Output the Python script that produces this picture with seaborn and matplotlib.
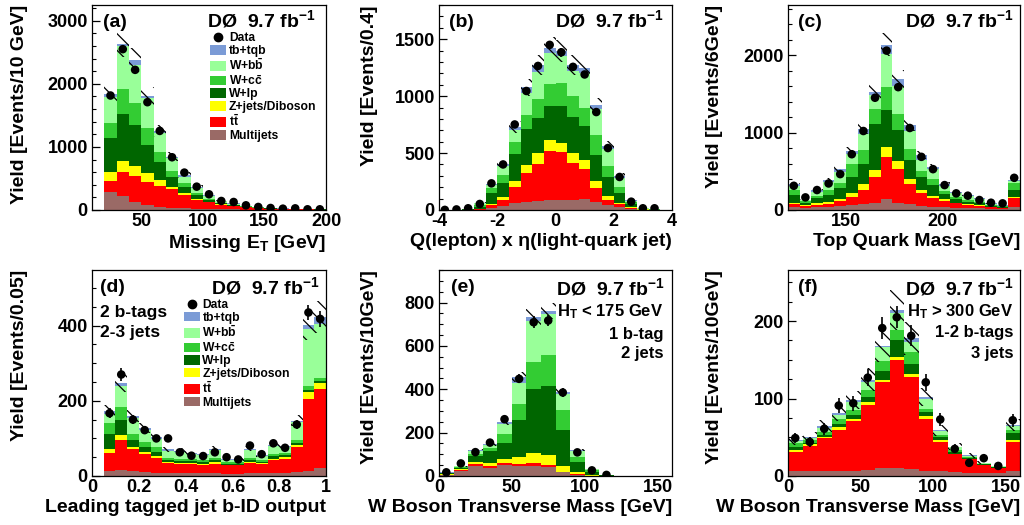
import numpy as np
import pandas as pd
import matplotlib
matplotlib.use("Agg")
import matplotlib.pyplot as plt
from matplotlib.patches import Patch
from matplotlib.lines import Line2D
from matplotlib.ticker import MultipleLocator, FixedLocator, FuncFormatter
import seaborn as sns

sns.set_theme(style="ticks", rc={"axes.edgecolor": "black", "xtick.color": "black",
                                 "ytick.color": "black", "text.color": "black",
                                 "axes.labelcolor": "black", "axes.linewidth": 0.9})
plt.rcParams['font.family'] = ['Liberation Sans', 'DejaVu Sans']
plt.rcParams['font.weight'] = 'bold'
plt.rcParams['axes.labelweight'] = 'bold'
plt.rcParams['mathtext.fontset'] = 'custom'
plt.rcParams['mathtext.rm'] = 'Liberation Sans:bold'
plt.rcParams['mathtext.it'] = 'Liberation Sans:bold:italic'
plt.rcParams['mathtext.bf'] = 'Liberation Sans:bold'
plt.rcParams['mathtext.sf'] = 'Liberation Sans:bold'
plt.rcParams['axes.unicode_minus'] = False
plt.rcParams['hatch.linewidth'] = 0.9

# ---------------- components (top of stack -> bottom) ----------------
COMP_KEYS = ["tb", "wbb", "wcc", "wlp", "zjets", "ttbar", "multijet"]
COMP_LABELS = ["tb+tqb", r"W+b$\bar{\mathrm{b}}$", r"W+c$\bar{\mathrm{c}}$", "W+lp",
               "Z+jets/Diboson", r"t$\bar{\mathrm{t}}$", "Multijets"]
COMP_COLORS = ["#7b9bd6", "#99ff99", "#33cc33", "#006600", "#ffff00", "#ff0000", "#9a6a66"]

# ---------------- (a) Missing ET ----------------
a_edges = list(range(20, 201, 10))
a_mj = [291, 222, 132, 79, 53, 37, 26, 21, 16, 10, 8, 5, 4, 3, 2, 2, 1, 1]
a_tt = [169, 386, 413, 371, 333, 291, 212, 138, 106, 75, 52, 37, 26, 19, 14, 10, 8, 6]
a_z = [148, 175, 159, 143, 90, 42, 37, 21, 10, 5, 4, 3, 2, 1, 1, 0, 0, 0]
a_wlp = [540, 741, 645, 439, 281, 149, 85, 58, 27, 15, 11, 7, 5, 3, 2, 2, 1, 1]
a_wcc = [238, 391, 344, 264, 169, 105, 63, 37, 21, 10, 7, 4, 3, 2, 1, 1, 1, 0]
a_wbb = [413, 678, 609, 476, 291, 196, 106, 69, 42, 25, 16, 10, 7, 5, 3, 2, 1, 1]
a_tb = [37, 37, 79, 38, 37, 27, 27, 16, 11, 8, 6, 4, 3, 2, 2, 1, 1, 1]
a_data = [1815, 2550, 2222, 1709, 1254, 836, 593, 370, 249, 143, 127, 74, 48, 32, 21, 26, 11, 11]
a_unc = 0.08

# ---------------- (b) Q x eta ----------------
b_edges = [-4.0, -3.6, -3.2, -2.8, -2.4, -2.0, -1.6, -1.2, -0.8, -0.4, 0.0,
           0.4, 0.8, 1.2, 1.6, 2.0, 2.4, 2.8, 3.2, 3.6, 4.0]
b_mj = [0, 0, 0, 2, 20, 32, 58, 73, 80, 88, 88, 84, 94, 73, 48, 29, 10, 2, 1, 0]
b_tt = [0, 0, 1, 6, 20, 52, 144, 253, 328, 427, 417, 331, 266, 117, 44, 21, 8, 2, 1, 1]
b_z = [0, 1, 1, 4, 15, 30, 53, 69, 89, 96, 86, 88, 80, 62, 28, 15, 7, 1, 0, 0]
b_wlp = [1, 1, 4, 18, 95, 126, 235, 317, 310, 305, 321, 312, 295, 228, 172, 88, 30, 5, 2, 0]
b_wcc = [0, 0, 2, 15, 40, 70, 110, 124, 170, 190, 199, 185, 165, 178, 98, 45, 15, 3, 1, 1]
b_wbb = [0, 1, 2, 13, 30, 80, 100, 192, 237, 275, 241, 220, 300, 227, 145, 82, 12, 3, 1, 0]
b_tb = [0, 0, 0, 6, 12, 12, 27, 48, 58, 40, 42, 55, 47, 35, 30, 20, 6, 2, 0, 0]
b_data = [1, 5, 15, 53, 234, 400, 751, 1045, 1265, 1450, 1385, 1257, 1190, 860, 544, 290, 73, 15, 15, np.nan]
b_unc = 0.07

# ---------------- (c) Top quark mass ----------------
c_edges = list(range(120, 241, 6))
c_mj = [43, 30, 34, 43, 52, 60, 73, 94, 137, 94, 73, 52, 43, 34, 30, 26, 21, 17, 17, 40]
c_tt = [30, 22, 30, 39, 64, 112, 185, 327, 550, 434, 257, 163, 116, 86, 56, 43, 35, 17, 9, 110]
c_z = [21, 12, 22, 25, 26, 43, 72, 94, 128, 107, 65, 43, 26, 17, 8, 8, 8, 5, 4, 13]
c_wlp = [99, 30, 64, 86, 137, 214, 271, 601, 481, 395, 249, 171, 137, 69, 48, 30, 22, 13, 9, 95]
c_wcc = [65, 18, 35, 65, 64, 172, 172, 193, 292, 206, 150, 77, 73, 43, 30, 22, 21, 8, 8, 85]
c_wbb = [55, 12, 51, 107, 151, 129, 214, 172, 429, 373, 227, 138, 130, 61, 48, 49, 33, 18, 11, 32]
c_tb = [17, 9, 22, 21, 34, 30, 65, 43, 120, 86, 73, 64, 33, 25, 16, 15, 10, 8, 6, 11]
c_data = [313, 163, 258, 343, 464, 721, 1021, 1451, 2060, 1588, 1060, 687, 528, 322, 215, 185, 129, 94, 86, 416]
c_unc = 0.07

# ---------------- (d) b-ID output ----------------
d_edges = [0.05, 0.10, 0.15, 0.20, 0.25, 0.30, 0.35, 0.40, 0.45, 0.50,
           0.55, 0.60, 0.65, 0.70, 0.75, 0.80, 0.85, 0.90, 0.95, 1.00]
d_mj = [14, 17, 13, 10, 9, 7, 7, 7, 7, 7, 6, 6, 7, 7, 8, 8, 10, 14, 20]
d_tt = [48, 78, 58, 48, 38, 27, 24, 24, 23, 25, 22, 22, 27, 25, 34, 38, 68, 192, 212]
d_z = [11, 14, 7, 7, 6, 3, 4, 3, 3, 4, 2, 2, 3, 2, 4, 4, 4, 18, 15]
d_wlp = [38, 41, 19, 13, 12, 5, 6, 5, 5, 6, 3, 3, 5, 4, 6, 6, 5, 6, 5]
d_wcc = [29, 34, 16, 13, 13, 7, 5, 5, 5, 6, 3, 3, 6, 4, 6, 5, 9, 10, 10]
d_wbb = [24, 56, 40, 31, 20, 18, 19, 14, 13, 22, 7, 6, 22, 12, 21, 16, 48, 150, 143]
d_tb = [8, 7, 6, 5, 5, 4, 2, 2, 2, 3, 2, 2, 3, 2, 3, 3, 3, 13, 19]
d_data = [167, 270, 150, 122, 100, 100, 63, 54, 53, 63, 50, 44, 81, 58, 87, 75, 137, 435, 418]
d_unc = 0.10

# ---------------- (e) W transverse mass, HT < 175 ----------------
e_edges = list(range(0, 161, 10))
e_mj = [5, 24, 48, 38, 51, 48, 48, 43, 17, 6, 1, 0, 0, 0, 0, 0]
e_tt = [1, 3, 7, 8, 7, 7, 10, 8, 3, 3, 1, 0, 0, 0, 0, 0]
e_z = [2, 3, 11, 16, 19, 34, 47, 46, 28, 8, 2, 1, 0, 0, 0, 0]
e_wlp = [4, 6, 26, 55, 74, 169, 295, 318, 164, 49, 16, 2, 1, 0, 0, 0]
e_wcc = [2, 4, 10, 11, 43, 74, 128, 143, 93, 23, 6, 1, 0, 0, 0, 0]
e_wbb = [2, 5, 15, 14, 46, 96, 189, 190, 72, 28, 4, 1, 0, 0, 0, 0]
e_tb = [1, 1, 3, 6, 8, 30, 15, 14, 9, 3, 2, 1, 0, 0, 0, 0]
e_data = [17, 58, 110, 154, 262, 448, 709, 717, 385, 109, 26, 5, np.nan, np.nan, np.nan, np.nan]
e_unc = 0.05

# ---------------- (f) W transverse mass, HT > 300 ----------------
f_edges = list(range(0, 161, 10))
f_mj = [6, 6, 6, 6, 7, 8, 10, 10, 9, 7, 6, 5, 4, 4, 4, 6]
f_tt = [25, 33, 43, 54, 64, 84, 111, 140, 119, 67, 38, 23, 18, 10, 6, 38]
f_z = [3, 2, 2, 3, 3, 3, 3, 4, 4, 3, 2, 1, 0, 0, 0, 2]
f_wlp = [4, 2, 2, 4, 5, 7, 12, 21, 13, 6, 4, 2, 1, 1, 1, 9]
f_wcc = [4, 3, 4, 6, 6, 9, 12, 13, 15, 4, 3, 3, 1, 1, 1, 4]
f_wbb = [3, 3, 5, 6, 11, 11, 18, 22, 13, 13, 5, 3, 2, 1, 1, 5]
f_tb = [1, 2, 2, 2, 2, 2, 2, 4, 5, 2, 1, 1, 1, 0, 0, 2]
f_data = [49, 44, 61, 91, 94, 127, 191, 205, 181, 121, 73, 35, 17, 23, 13, 72]
f_unc = 0.12

LUMI_TEXT = r"DØ  9.7 fb$^{\mathrm{-1}}$"

W, H = 1024, 525
fig = plt.figure(figsize=(W / 100, H / 100), dpi=100)


def make_axes(l, r, t, b):
    return fig.add_axes([l / W, 1 - b / H, (r - l) / W, (b - t) / H])


def draw_panel(ax, edges, comps, data, unc):
    edges = np.asarray(edges, float)
    centers = 0.5 * (edges[:-1] + edges[1:])
    frames = [pd.DataFrame({"x": centers, "w": np.asarray(v, float), "comp": k})
              for k, v in zip(COMP_KEYS, comps)]
    df = pd.concat(frames, ignore_index=True)
    sns.histplot(data=df, x="x", weights="w", hue="comp", hue_order=COMP_KEYS,
                 palette=dict(zip(COMP_KEYS, COMP_COLORS)), multiple="stack",
                 bins=[float(e) for e in edges], element="step", fill=True, alpha=1,
                 linewidth=0, legend=False, ax=ax)
    total = np.sum([np.asarray(v, float) for v in comps], axis=0)
    lo, hi = total * (1 - unc), total * (1 + unc)
    ax.fill_between(edges, np.append(lo, lo[-1]), np.append(hi, hi[-1]), step="post",
                    facecolor="none", edgecolor="black", hatch="\\\\", linewidth=0, zorder=3)
    d = np.asarray(data, float)
    ax.errorbar(centers, d, yerr=np.sqrt(d), fmt="none", ecolor="black",
                elinewidth=1.2, capsize=0, zorder=4)
    sns.scatterplot(x=centers, y=d, color="black", s=38, edgecolor="none", ax=ax, zorder=5)


def style_axes(ax, xlim, ylim, xticks, ymajor, yminor, xlabel, ylabel, ylab_x, xfmt=None):
    ax.set_xlim(*xlim)
    ax.set_ylim(*ylim)
    ax.xaxis.set_major_locator(FixedLocator(xticks))
    if xfmt is not None:
        ax.xaxis.set_major_formatter(FuncFormatter(xfmt))
    ax.yaxis.set_major_locator(MultipleLocator(ymajor))
    ax.yaxis.set_minor_locator(MultipleLocator(yminor))
    ax.tick_params(axis="x", which="both", length=0, pad=2, labelsize=13)
    ax.tick_params(axis="y", which="major", direction="in", length=6, width=0.9,
                   left=True, right=False, labelsize=13, pad=3)
    ax.tick_params(axis="y", which="minor", direction="in", length=3, width=0.8,
                   left=True, right=False)
    for lab in ax.get_xticklabels() + ax.get_yticklabels():
        lab.set_fontweight("bold")
    ax.set_xlabel(xlabel, fontsize=14, fontweight="bold", loc="right")
    ax.set_ylabel(ylabel, fontsize=14, fontweight="bold", loc="top")
    ax.xaxis.set_label_coords(1.0, -0.113)
    ax.yaxis.set_label_coords(ylab_x, 1.0)
    for sp in ax.spines.values():
        sp.set_visible(True)
        sp.set_color("black")
        sp.set_linewidth(0.9)
        sp.set_zorder(6)


def add_legend(ax, x, y):
    handles = [Line2D([], [], marker="o", color="black", ls="none", ms=6)]
    labels = ["Data"]
    for lab, col in zip(COMP_LABELS, COMP_COLORS):
        handles.append(Patch(facecolor=col, edgecolor="none"))
        labels.append(lab)
    ax.legend(handles, labels, loc="upper left", bbox_to_anchor=(x, y), frameon=False,
              prop={"weight": "bold", "size": 8.7}, handlelength=1.35, handleheight=0.85,
              handletextpad=0.2, labelspacing=0.05, borderpad=0, borderaxespad=0)


def txt(ax, x, y, s, ha="left", size=13):
    ax.text(x, y, s, transform=ax.transAxes, ha=ha, va="center", fontsize=size,
            fontweight="bold", zorder=7)


cols = [(92, 326), (439, 672), (788, 1020)]
top_row = (5, 210)
bot_row = (270, 476)
ylab_xs = [-0.274, -0.262, -0.28]

# (a)
ax = make_axes(cols[0][0], cols[0][1], *top_row)
draw_panel(ax, a_edges, [a_tb, a_wbb, a_wcc, a_wlp, a_z, a_tt, a_mj], a_data, a_unc)
style_axes(ax, (10, 200), (0, 3250), [50, 100, 150, 200], 1000, 200,
           r"Missing E$_{\mathrm{T}}$ [GeV]", "Yield [Events/10 GeV]", ylab_xs[0])
add_legend(ax, 0.505, 0.866)
txt(ax, 0.045, 0.915, "(a)", size=14)
txt(ax, 0.955, 0.93, LUMI_TEXT, ha="right", size=14)

# (b)
ax = make_axes(cols[1][0], cols[1][1], *top_row)
draw_panel(ax, b_edges, [b_tb, b_wbb, b_wcc, b_wlp, b_z, b_tt, b_mj], b_data, b_unc)
style_axes(ax, (-4, 4), (0, 1800), [-4, -2, 0, 2, 4], 500, 100,
           "Q(lepton) x η(light-quark jet)", "Yield [Events/0.4]", ylab_xs[1],
           xfmt=lambda v, p: f"{v:g}")
txt(ax, 0.045, 0.915, "(b)", size=14)
txt(ax, 0.962, 0.93, LUMI_TEXT, ha="right", size=14)

# (c)
ax = make_axes(cols[2][0], cols[2][1], *top_row)
draw_panel(ax, c_edges, [c_tb, c_wbb, c_wcc, c_wlp, c_z, c_tt, c_mj], c_data, c_unc)
style_axes(ax, (120, 240), (0, 2650), [150, 200], 1000, 200,
           "Top Quark Mass [GeV]", "Yield [Events/6GeV]", ylab_xs[2])
txt(ax, 0.043, 0.915, "(c)", size=14)
txt(ax, 0.97, 0.93, LUMI_TEXT, ha="right", size=14)

# (d)
ax = make_axes(cols[0][0], cols[0][1], *bot_row)
draw_panel(ax, d_edges, [d_tb, d_wbb, d_wcc, d_wlp, d_z, d_tt, d_mj], d_data, d_unc)
style_axes(ax, (0, 1), (0, 548), [0, 0.2, 0.4, 0.6, 0.8, 1.0], 200, 50,
           "Leading tagged jet b-ID output", "Yield [Events/0.05]", ylab_xs[0],
           xfmt=lambda v, p: f"{v:g}")
add_legend(ax, 0.392, 0.858)
txt(ax, 0.034, 0.915, "(d)", size=14)
txt(ax, 0.972, 0.918, LUMI_TEXT, ha="right", size=14)
txt(ax, 0.034, 0.796, "2 b-tags", size=12.5)
txt(ax, 0.034, 0.699, "2-3 jets", size=12.5)

# (e)
ax = make_axes(cols[1][0], cols[1][1], *bot_row)
draw_panel(ax, e_edges, [e_tb, e_wbb, e_wcc, e_wlp, e_z, e_tt, e_mj], e_data, e_unc)
style_axes(ax, (0, 160), (0, 950), [0, 50, 100, 150], 200, 50,
           "W Boson Transverse Mass [GeV]", "Yield [Events/10GeV]", ylab_xs[1])
txt(ax, 0.052, 0.913, "(e)", size=14)
txt(ax, 0.968, 0.913, LUMI_TEXT, ha="right", size=14)
txt(ax, 0.962, 0.796, r"H$_{\mathrm{T}}$ < 175 GeV", ha="right", size=12)
txt(ax, 0.962, 0.689, "1 b-tag", ha="right", size=12)
txt(ax, 0.962, 0.597, "2 jets", ha="right", size=12)

# (f)
ax = make_axes(cols[2][0], cols[2][1], *bot_row)
draw_panel(ax, f_edges, [f_tb, f_wbb, f_wcc, f_wlp, f_z, f_tt, f_mj], f_data, f_unc)
style_axes(ax, (0, 160), (0, 266), [0, 50, 100, 150], 100, 25,
           "W Boson Transverse Mass [GeV]", "Yield [Events/10GeV]", ylab_xs[2])
txt(ax, 0.043, 0.913, "(f)", size=14)
txt(ax, 0.97, 0.913, LUMI_TEXT, ha="right", size=14)
txt(ax, 0.97, 0.796, r"H$_{\mathrm{T}}$ > 300 GeV", ha="right", size=12)
txt(ax, 0.97, 0.699, "1-2 b-tags", ha="right", size=12)
txt(ax, 0.97, 0.597, "3 jets", ha="right", size=12)

fig.savefig("out.png", dpi=100)
